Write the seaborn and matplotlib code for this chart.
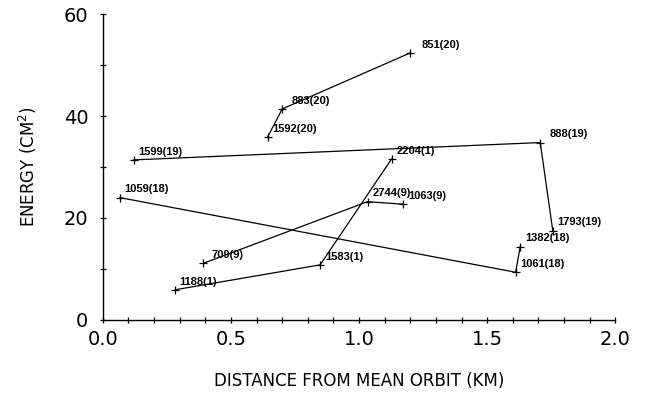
import pandas as pd
import matplotlib
matplotlib.use("Agg")
import matplotlib.pyplot as plt
import seaborn as sns

# -----------------------------
# Data
# -----------------------------
ids = ["1592(20)", "883(20)", "851(20)",
       "1599(19)", "888(19)", "1793(19)",
       "1059(18)", "1061(18)", "1382(18)",
       "709(9)", "2744(9)", "1063(9)",
       "1188(1)", "1583(1)", "2204(1)"]
group = [20, 20, 20, 19, 19, 19, 18, 18, 18, 9, 9, 9, 1, 1, 1]
distance = [0.643, 0.70, 1.20,
            0.121, 1.707, 1.756,
            0.066, 1.611, 1.629,
            0.392, 1.033, 1.173,
            0.281, 0.848, 1.127]
energy = [35.9, 41.4, 52.4,
          31.4, 34.8, 17.5,
          24.0, 9.35, 14.4,
          11.1, 23.2, 22.7,
          5.9, 10.8, 31.6]

df = pd.DataFrame({"id": ids, "group": group, "distance": distance,
                   "energy": energy})

# label offsets (points) - a few sit further right of their marker
label_dx = {"851(20)": 8, "883(20)": 7, "888(19)": 7, "709(9)": 6}

sns.set_style("ticks")
plt.rcParams["font.family"] = ["DejaVu Sans"]
plt.rcParams["text.color"] = "black"
plt.rcParams["axes.labelcolor"] = "black"
plt.rcParams["xtick.color"] = "black"
plt.rcParams["ytick.color"] = "black"
plt.rcParams["axes.edgecolor"] = "black"

fig = plt.figure(figsize=(6.47, 3.93), dpi=100)
ax = fig.add_axes([0.159, 0.186, 0.792, 0.778])

sns.lineplot(data=df, x="distance", y="energy", units="group",
             estimator=None, sort=False, color="black", lw=0.9, ax=ax)
sns.scatterplot(data=df, x="distance", y="energy", marker="+",
                color="black", s=30, linewidth=0.9, ax=ax)

for _, r in df.iterrows():
    dx = label_dx.get(r["id"], 3.5)
    ax.annotate(r["id"], (r["distance"], r["energy"]), xytext=(dx, 6),
                textcoords="offset points", fontsize=8, va="center",
                fontweight="bold", color="black",
                family=["Liberation Sans Narrow", "Liberation Sans"])

ax.set_xlim(0, 2.0)
ax.set_ylim(0, 60)
ax.set_xticks([0.0, 0.5, 1.0, 1.5, 2.0])
ax.set_xticks([i / 10 for i in range(21)], minor=True)
ax.set_xticklabels(["0.0", "0.5", "1.0", "1.5", "2.0"])
ax.set_yticks([0, 20, 40, 60])
ax.set_yticks(range(0, 61, 10), minor=True)
ax.tick_params(which="both", direction="inout", length=5, width=0.9,
               labelsize=14)
ax.tick_params(which="minor", length=4)
ax.tick_params(axis="x", pad=5)
ax.tick_params(axis="y", pad=8)
ax.set_xlabel("DISTANCE FROM MEAN ORBIT (KM)", fontsize=12, labelpad=16)
ax.set_ylabel("ENERGY (CM$^2$)", fontsize=12, labelpad=18)
sns.despine(ax=ax)
for sp in ax.spines.values():
    sp.set_linewidth(1.0)

plt.savefig("out.png", dpi=100)
plt.close()
